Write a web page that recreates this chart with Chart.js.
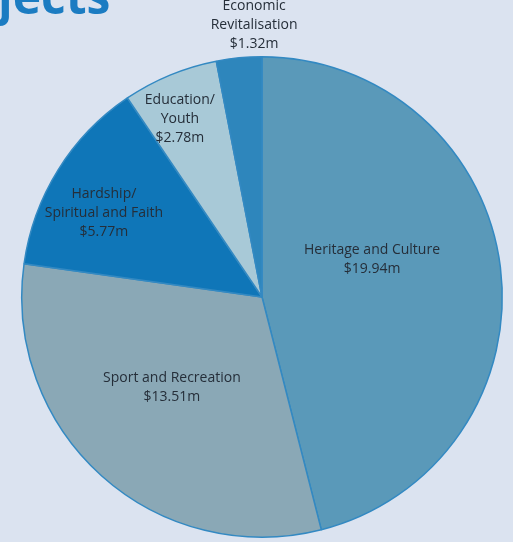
<!DOCTYPE html>
<html>
<head>
<meta charset="utf-8">
<script src="https://cdn.jsdelivr.net/npm/chart.js@4.4.0/dist/chart.umd.min.js"></script>
<style>
html,body{margin:0;padding:0;background:#dbe3f0;}
#wrap{position:relative;width:513px;height:542px;}
</style>
</head>
<body>
<div id="wrap"><canvas id="c" width="513" height="542"></canvas></div>
<script>
const categories = ["Heritage and Culture", "Sport and Recreation", "Hardship/\nSpiritual and Faith", "Education/\nYouth", "Economic\nRevitalisation"];
const values = [19.94, 13.51, 5.77, 2.78, 1.32];
const valueLabels = ["$19.94m", "$13.51m", "$5.77m", "$2.78m", "$1.32m"];
const colors = ["#5a99b9", "#8aa8b6", "#0f76b8", "#a8c9d7", "#2e86bc"];
const titleText = "jects";

// label offsets relative to pie center, in units of radius (layout only)
const labelOffsets = [[0.458,-0.158],[-0.375,0.375],[-0.658,-0.35],[-0.342,-0.742],[-0.033,-1.133]];

const labelPlugin = {
  id: 'labels',
  afterDatasetsDraw(chart) {
    const ctx = chart.ctx;
    const meta = chart.getDatasetMeta(0);
    ctx.save();
    ctx.fillStyle = '#252e39';
    ctx.font = '500 14px "Open Sans", sans-serif';
    ctx.textAlign = 'center';
    ctx.textBaseline = 'middle';
    meta.data.forEach((arc, i) => {
      const r = arc.outerRadius;
      const cx = arc.x + labelOffsets[i][0] * r;
      const cy = arc.y + labelOffsets[i][1] * r;
      const lines = categories[i].split('\n').concat([valueLabels[i]]);
      const lh = 19;
      const y0 = cy - (lines.length - 1) * lh / 2;
      lines.forEach((t, k) => ctx.fillText(t, cx, y0 + k * lh));
    });
    ctx.fillStyle = '#1b7cc2';
    ctx.font = 'bold 48px "Open Sans", sans-serif';
    ctx.textAlign = 'left';
    ctx.textBaseline = 'alphabetic';
    ctx.fillText(titleText, -2, 14);
    ctx.restore();
  }
};

new Chart(document.getElementById('c'), {
  type: 'pie',
  data: {
    labels: categories,
    datasets: [{
      data: values,
      backgroundColor: colors,
      borderColor: '#3389c2',
      borderWidth: 1.5
    }]
  },
  options: {
    responsive: false,
    animation: false,
    layout: { padding: { left: 21, right: 10, top: 56, bottom: 4 } },
    plugins: { legend: { display: false }, tooltip: { enabled: false } }
  },
  plugins: [labelPlugin]
});
</script>
</body>
</html>
